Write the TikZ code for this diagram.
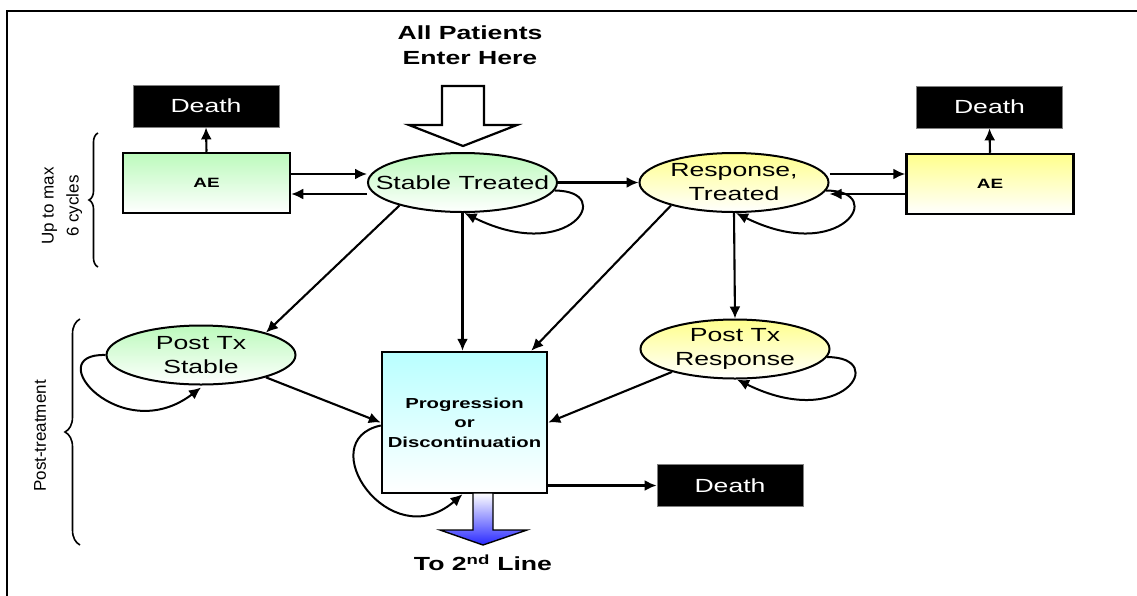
\documentclass[tikz,border=0pt]{standalone}
\usepackage{fontspec}
\setmainfont[FakeStretch=1.4]{Liberation Sans}
\newfontfamily\sidefont{Liberation Sans}
\usetikzlibrary{shapes.geometric,arrows.meta,decorations.pathreplacing}
\definecolor{stgreen}{RGB}{188,250,188}
\definecolor{rsyellow}{RGB}{255,255,140}
\definecolor{pgcyan}{RGB}{185,255,255}
\definecolor{tlblue}{RGB}{40,40,255}

\def\ew{189}
\def\eh{59}
\def\bw{2.5}

\begin{document}
\begin{tikzpicture}[x=1pt,y=-1pt,
	ell/.style={ellipse,draw,line width=2pt,inner sep=0pt,minimum width=\ew pt,minimum height=\eh pt,bottom color=white,label={[align=center,font=\fontsize{19}{24}\selectfont]center:#1}},
	greenell/.style={ell={#1},top color=stgreen},
	yellowell/.style={ell={#1},top color=rsyellow},
	aebox/.style={rectangle,draw,line width=\bw pt,inner sep=0pt,minimum width=167pt,minimum height=60pt,bottom color=white,font=\bfseries\fontsize{13.5}{16}\selectfont},
	death/.style={rectangle,fill=black,draw=gray,line width=0.8pt,text=white,minimum width=146pt,minimum height=42pt,font=\fontsize{19}{23}\selectfont},
	arr/.style={-{Latex[length=12pt,width=11pt]},line width=2.1pt},
	selfloop/.style={arr,line width=2pt},
	brace/.style={decorate,decoration={brace,amplitude=#1},line width=1.6pt}]
	\useasboundingbox (0,0) rectangle (1137,595);
	\draw[line width=2.5pt] (7,600) -- (7,11) -- (1140,11);

	\node[align=center,font=\bfseries\fontsize{19}{25}\selectfont] (enter) at (470,45) {All Patients\\Enter Here};
	\draw[line width=2.2pt,fill=white] (442,86) -- (484,86) -- (484,125) -- (517,125) -- (463,146) -- (409,125) -- (442,125) -- cycle;

	\node[greenell={Stable Treated}] (st) at (462.5,182.5) {};
	\node[yellowell={Response,\\Treated}] (rt) at (734,182.5) {};
	\node[greenell={Post Tx\\Stable}] (ps) at (201,355) {};
	\node[yellowell={Post Tx\\Response}] (pr) at (735,349) {};

	\node[aebox,top color=stgreen] (ae1) at (206.5,183) {AE};
	\node[aebox,top color=rsyellow] (ae2) at (990,184) {AE};
	\node[death] (d1) at (206,106) {Death};
	\node[death] (d2) at (989.5,107) {Death};
	\node[death] (d3) at (730,485.5) {Death};

	\node[rectangle,draw,line width=\bw pt,inner sep=0pt,minimum width=165pt,minimum height=141pt,top color=pgcyan,bottom color=white,align=center,font=\bfseries\fontsize{14.5}{19.5}\selectfont] (pg) at (464.5,422.5) {Progression\\or\\Discontinuation};

	\draw[line width=1.4pt,top color=white,bottom color=tlblue] (473,493) -- (493,493) -- (493,530) -- (527,530) -- (483,545) -- (440,530) -- (473,530) -- cycle;
	\node[font=\bfseries\fontsize{19}{23}\selectfont] (tosecond) at (483,563) {To 2\textsuperscript{nd} Line};

	\node[rotate=90,align=center,font=\sidefont\fontsize{17}{25}\selectfont] (cyc) at (62,206) {Up to max\\6 cycles};
	\node[rotate=90,font=\sidefont\fontsize{17}{21}\selectfont] (post) at (40,436) {Post-treatment};
	\draw[brace=9pt] (98,267) -- (98,133);
	\draw[brace=15pt] (80,545) -- (80,319);

	\draw[arr] (ae1.north) -- (d1.south);
	\draw[arr] (ae2.north) -- (d2.south);
	\draw[arr] ([yshift=9pt]ae1.east) -- ([yshift=9pt]ae1.east -| st.west);
	\draw[arr] ([yshift=-11pt]ae1.east -| st.west) -- ([yshift=-11pt]ae1.east);
	\draw[arr] (st.east) -- (rt.west);
	\draw[arr] ([yshift=10pt]ae2.west -| rt.east) -- ([yshift=10pt]ae2.west);
	\draw[arr] ([yshift=-10pt]ae2.west) -- ([yshift=-10pt]ae2.west -| rt.east);
	\draw[arr] (st.200) -- (ps.19);
	\draw[arr] (st.south) -- (st.south |- pg.north);
	\draw[arr] (rt.200) -- ([xshift=-17pt]pg.north east);
	\draw[arr] (rt.south) -- (pr.north);
	\draw[arr] (ps.-19) -- (pg.west);
	\draw[arr] (pr.200) -- (pg.east);
	\draw[arr] (pg.east |- d3.west) -- (d3.west);

	\draw[selfloop] (st.-5) .. controls +(63,0) and +(105,52) .. ([xshift=2pt]st.south);
	\draw[selfloop] (rt.-5) .. controls +(63,0) and +(105,52) .. ([xshift=2pt]rt.south);
	\draw[selfloop] (pr.-5) .. controls +(63,0) and +(105,52) .. ([xshift=2pt]pr.south);
	\draw[selfloop] (ps.west) .. controls +(-67,-2) and +(-80,61) .. ([yshift=-2pt]ps.south);
	\draw[selfloop] ([yshift=-3pt]pg.west) .. controls +(-70,15) and +(-73,63) .. ([xshift=-2pt]pg.south);
\end{tikzpicture}
\end{document}
